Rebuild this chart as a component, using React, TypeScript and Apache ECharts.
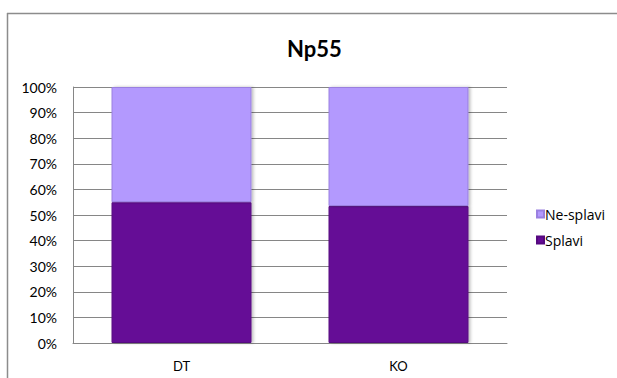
import React, { useEffect, useRef } from "react";
import * as echarts from "echarts";

const categories = ["DT", "KO"];
const splavi = [55, 53.5];
const neSplavi = [45, 46.5];
const yTicks = [0, 10, 20, 30, 40, 50, 60, 70, 80, 90, 100];

export default function App() {
  const ref = useRef<HTMLDivElement>(null);
  useEffect(() => {
    if (!ref.current) return;
    const chart = echarts.init(ref.current, undefined, { renderer: "svg" });
    const font = "Lato, 'Noto Sans', sans-serif";
    chart.setOption({
      animation: false,
      backgroundColor: "#ffffff",
      textStyle: { fontFamily: font },
      title: {
        text: "Np55",
        left: 282,
        top: 32,
        textStyle: { fontSize: 22, fontWeight: "bold", color: "#000", fontFamily: font },
      },
      graphic: [
        {
          type: "line",
          shape: { x1: 7.5, y1: 13, x2: 7.5, y2: 378 },
          style: { stroke: "#8c8c8c", lineWidth: 1.5 },
          silent: true,
        },
        {
          type: "line",
          shape: { x1: 7, y1: 13.5, x2: 617, y2: 13.5 },
          style: { stroke: "#8c8c8c", lineWidth: 1.5 },
          silent: true,
        },
      ],
      legend: {
        orient: "vertical",
        left: 531,
        top: 202,
        itemWidth: 7,
        itemHeight: 7,
        itemGap: 12,
        icon: "rect",
        data: ["Ne-splavi", "Splavi"],
        textStyle: {
          fontSize: 14,
          color: "#000",
          fontFamily: "'Open Sans', Lato, sans-serif",
          padding: [0, 0, 0, -4],
        },
      },
      grid: { left: 73, top: 87, width: 434, height: 256 },
      xAxis: {
        type: "category",
        data: categories,
        axisLine: { lineStyle: { color: "#868686" } },
        axisTick: { show: false },
        axisLabel: { color: "#000", fontSize: 13, margin: 16, fontFamily: font },
      },
      yAxis: {
        type: "value",
        min: 0,
        max: 100,
        interval: 10,
        axisLine: { show: true, lineStyle: { color: "#868686" } },
        axisTick: { show: false },
        splitLine: { lineStyle: { color: "#868686" } },
        axisLabel: {
          color: "#000",
          fontSize: 14,
          margin: 16,
          fontFamily: font,
          formatter: (v: number) => (yTicks.includes(v) ? v + "%" : ""),
        },
      },
      series: [
        {
          name: "Splavi",
          type: "bar",
          stack: "a",
          data: splavi,
          barWidth: "64.5%",
          itemStyle: {
            color: "#650b96",
            borderColor: "#55087f",
            borderWidth: 1,
            shadowColor: "rgba(0,0,0,0.25)",
            shadowBlur: 3,
            shadowOffsetX: 2,
          },
        },
        {
          name: "Ne-splavi",
          type: "bar",
          stack: "a",
          data: neSplavi,
          barWidth: "64.5%",
          itemStyle: {
            color: "#b399fe",
            borderColor: "#9a80e0",
            borderWidth: 1,
            shadowColor: "rgba(0,0,0,0.25)",
            shadowBlur: 3,
            shadowOffsetX: 2,
          },
        },
      ],
    });
    return () => chart.dispose();
  }, []);
  return (
    <div
      ref={ref}
      style={{ position: "absolute", left: 0, top: 0, width: 617, height: 378 }}
    />
  );
}
